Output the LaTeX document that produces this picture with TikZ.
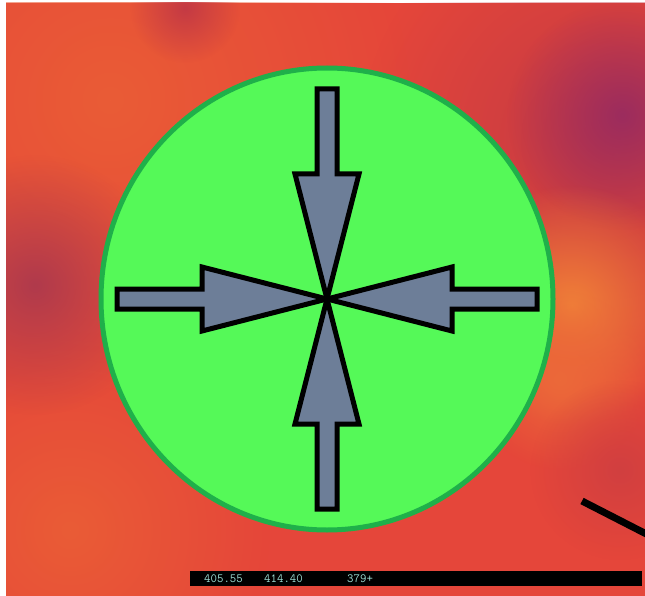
\documentclass[tikz,border=0pt]{standalone}
\usetikzlibrary{fadings}
\definecolor{basered}{HTML}{E5463A}
\definecolor{warmred}{HTML}{EA5C36}
\definecolor{darkred}{HTML}{C43A44}
\definecolor{plum}{HTML}{9C2C5E}
\definecolor{leftplum}{HTML}{B03A4C}
\definecolor{hotorange}{HTML}{F08038}
\definecolor{circfill}{HTML}{55F958}
\definecolor{circline}{HTML}{1FB04A}
\definecolor{arrowfill}{HTML}{6D7E98}
\definecolor{readout}{HTML}{9EDFD6}
\tikzfading[name=softblob, inner color=transparent!0, outer color=transparent!100]
\tikzset{
  blob/.style={draw=none, path fading=softblob},
  inarrow/.style={draw=black, line width=5pt, fill=arrowfill, line join=miter},
  zone/.style={draw=circline, line width=5pt, fill=circfill},
  stroke/.style={line width=7pt, black},
  bar/.style={fill=black, draw=none},
  readtext/.style={text=readout, font=\ttfamily\fontsize{12.5}{12.5}\selectfont, inner sep=0pt, anchor=west}
}
\begin{document}
\begin{tikzpicture}[x=1pt,y=-1pt]
\useasboundingbox (0,0) rectangle (645,596);
\fill[white] (0,0) rectangle (645,596);
% heat-map background
\begin{scope}
  \clip (6,3) rectangle (645,596);
  \fill[basered] (6,3) rectangle (645,596);
  \fill[warmred, blob] (110,100) circle (300);
  \fill[warmred, blob] (70,530) circle (200);
  \fill[darkred, blob] (185,8) circle (55);
  \fill[leftplum, blob] (35,285) circle (130);
  \fill[darkred, blob] (600,140) circle (240);
  \fill[plum, blob] (622,115) circle (115);
  \fill[hotorange, blob] (572,305) circle (120);
  \fill[hotorange!60!basered, blob] (560,380) circle (90);
  \fill[darkred!60!basered, blob] (620,470) circle (90);
  % black stroke at lower right
  \coordinate (s1) at (582,501);
  \coordinate (s2) at (660,541);
  \draw[stroke] (s1) -- (s2);
\end{scope}
% green zone
\coordinate (c) at (327,299);
\draw[zone] (c) ellipse [x radius=226, y radius=231];
% four converging arrows
\foreach \ang in {0,90,180,270}{
  \begin{scope}[shift={(c)}, rotate=\ang]
    \draw[inarrow] (-210,-10) -- (-125,-10) -- (-125,-32) -- (0,0)
      -- (-125,32) -- (-125,10) -- (-210,10) -- cycle;
  \end{scope}
}
% readout bar
\fill[bar] (190,571) rectangle (642,586);
\node[readtext] (r1) at (204,578.5) {405.55};
\node[readtext] (r2) at (264,578.5) {414.40};
\node[readtext] (r3) at (347,578.5) {379+};
\end{tikzpicture}
\end{document}
